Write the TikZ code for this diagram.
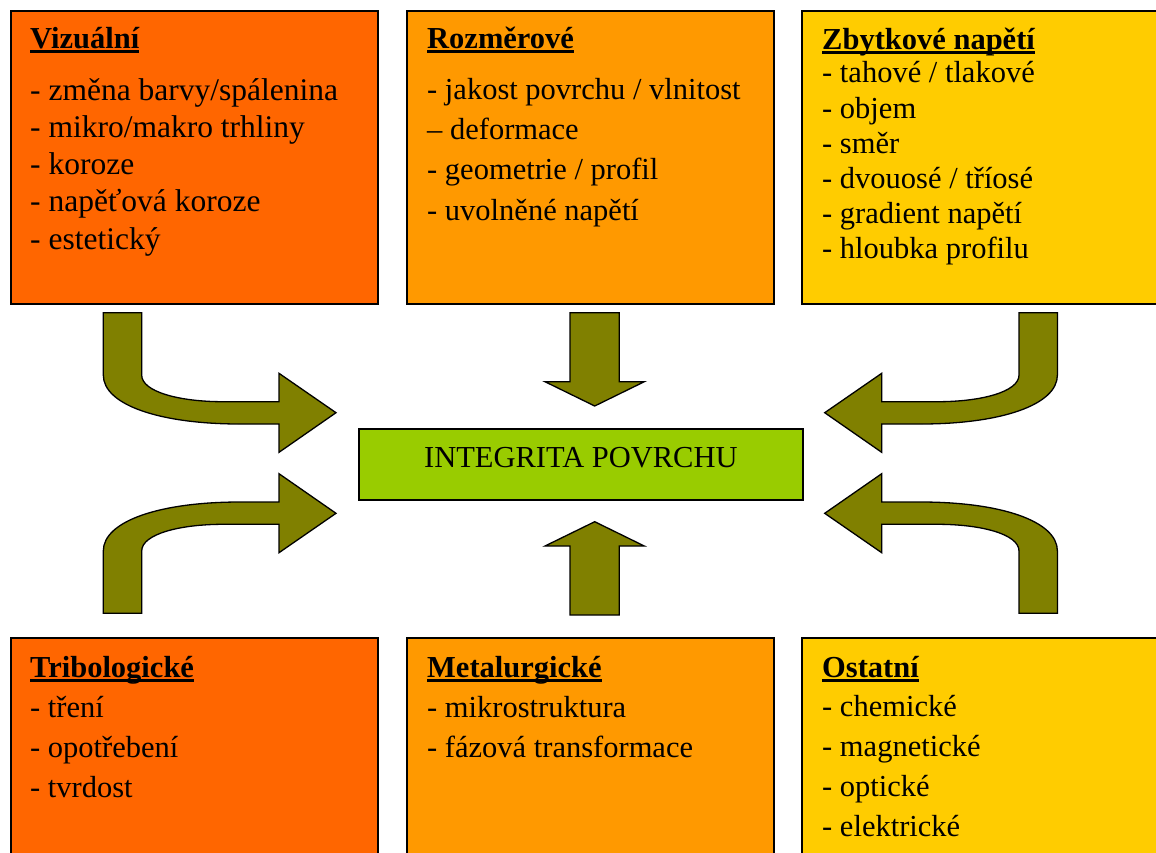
\documentclass[tikz,border=0pt]{standalone}
\usepackage{fontspec}
\setmainfont{Liberation Serif}
\definecolor{oranA}{HTML}{FF6600}
\definecolor{oranB}{HTML}{FF9900}
\definecolor{oranC}{HTML}{FFCC00}
\definecolor{greenC}{HTML}{99CC00}
\definecolor{oliveA}{HTML}{808000}
\begin{document}
\begin{tikzpicture}[x=1pt,y=-1pt,
  box/.style={draw=black, line width=1.8pt, inner sep=0pt, anchor=north west},
  txt/.style={anchor=base west, inner sep=0pt, font=\fontsize{30.5}{36}\selectfont},
  txtb/.style={anchor=base west, inner sep=0pt, font=\fontsize{31.5}{37}\selectfont},
  hd/.style={anchor=base west, inner sep=0pt, font=\fontsize{30.5}{36}\selectfont\bfseries},
  uline/.style={line width=3pt},
  blockarrow/.style={fill=oliveA, draw=black, line width=1.3pt, line join=miter}]
\useasboundingbox (0,0) rectangle (1156,852);
\clip (0,0) rectangle (1156,852);

% boxes
\node[box, fill=oranA, minimum width=367pt, minimum height=293pt] (bviz) at (10,10) {};
\node[box, fill=oranB, minimum width=367pt, minimum height=293pt] (broz) at (406,10) {};
\node[box, fill=oranC, minimum width=370pt, minimum height=293pt] (bzby) at (801,10) {};
\node[box, fill=oranA, minimum width=367pt, minimum height=240pt] (btri) at (10,637) {};
\node[box, fill=oranB, minimum width=367pt, minimum height=240pt] (bmet) at (406,637) {};
\node[box, fill=oranC, minimum width=370pt, minimum height=240pt] (bost) at (801,637) {};

% centre
\node[box, fill=greenC, minimum width=444pt, text height=39pt, text depth=32pt,
      font=\fontsize{30.5}{36}\selectfont] (cen) at (358,428) {INTEGRITA POVRCHU};

% Vizualni
\node[hd] (vh) at (30,48.5) {Vizuální};
\draw[uline] ([yshift=-3pt]vh.base west) -- ([yshift=-3pt]vh.base east);
\node[txtb] (v1) at (30,100) {- změna barvy/spálenina};
\node[txtb] (v2) at (30,137) {- mikro/makro trhliny};
\node[txtb] (v3) at (30,174) {- koroze};
\node[txtb] (v4) at (30,211) {- napěťová koroze};
\node[txtb] (v5) at (30,249) {- estetický};

% Rozmerove
\node[hd] (rh) at (427,48.5) {Rozměrové};
\draw[uline] ([yshift=-3pt]rh.base west) -- ([yshift=-3pt]rh.base east);
\node[txt] (r1) at (427,99) {- jakost povrchu / vlnitost};
\node[txt] (r2) at (427,139) {– deformace};
\node[txt] (r3) at (427,179) {- geometrie / profil};
\node[txt] (r4) at (427,220) {- uvolněné napětí};

% Zbytkove napeti
\node[hd] (zh) at (822,49) {Zbytkové napětí};
\draw[uline] ([yshift=-3pt]zh.base west) -- ([yshift=-3pt]zh.base east);
\node[txt] (z1) at (822,82) {- tahové / tlakové};
\node[txt] (z2) at (822,118) {- objem};
\node[txt] (z3) at (822,153) {- směr};
\node[txt] (z4) at (822,188.5) {- dvouosé / tříosé};
\node[txt] (z5) at (822,223) {- gradient napětí};
\node[txt] (z6) at (822,258) {- hloubka profilu};

% Tribologicke
\node[hd] (th) at (30,677) {Tribologické};
\draw[uline] ([yshift=-3pt]th.base west) -- ([yshift=-3pt]th.base east);
\node[txt] (t1) at (30,717) {- tření};
\node[txt] (t2) at (30,757) {- opotřebení};
\node[txt] (t3) at (30,797) {- tvrdost};

% Metalurgicke
\node[hd] (mh) at (427,677) {Metalurgické};
\draw[uline] ([yshift=-3pt]mh.base west) -- ([yshift=-3pt]mh.base east);
\node[txt] (m1) at (427,717) {- mikrostruktura};
\node[txt] (m2) at (427,757) {- fázová transformace};

% Ostatni
\node[hd] (oh) at (822,677) {Ostatní};
\draw[uline] ([yshift=-3pt]oh.base west) -- ([yshift=-3pt]oh.base east);
\node[txt] (o1) at (822,716) {- chemické};
\node[txt] (o2) at (822,756) {- magnetické};
\node[txt] (o3) at (822,796) {- optické};
\node[txt] (o4) at (822,836) {- elektrické};

% block arrows
\draw[blockarrow] (103.3,312.7) -- (141.7,312.7) -- (141.7,375)
  .. controls (141.7,392) and (180,401.7) .. (223,401.7) -- (279,401.7) -- (279,373.3)
  -- (336,412.7) -- (279,452.3) -- (279,424) -- (240,424)
  .. controls (160,424) and (103.3,405) .. (103.3,375) -- cycle;
\draw[blockarrow] (103.3,613.3) -- (141.7,613.3) -- (141.7,551)
  .. controls (141.7,534) and (180,524.3) .. (223,524.3) -- (279,524.3) -- (279,552.7)
  -- (336,513.3) -- (279,473.7) -- (279,502) -- (240,502)
  .. controls (160,502) and (103.3,521) .. (103.3,551) -- cycle;
\draw[blockarrow] (1057.4,312.7) -- (1019,312.7) -- (1019,375)
  .. controls (1019,392) and (980.7,401.7) .. (937.7,401.7) -- (881.7,401.7) -- (881.7,373.3)
  -- (824.7,412.7) -- (881.7,452.3) -- (881.7,424) -- (920.7,424)
  .. controls (1000.7,424) and (1057.4,405) .. (1057.4,375) -- cycle;
\draw[blockarrow] (1057.4,613.3) -- (1019,613.3) -- (1019,551)
  .. controls (1019,534) and (980.7,524.3) .. (937.7,524.3) -- (881.7,524.3) -- (881.7,552.7)
  -- (824.7,513.3) -- (881.7,473.7) -- (881.7,502) -- (920.7,502)
  .. controls (1000.7,502) and (1057.4,521) .. (1057.4,551) -- cycle;
\draw[blockarrow] (570,312.7) -- (619.3,312.7) -- (619.3,381.7) -- (644.3,381.7)
  -- (594.7,406) -- (545,381.7) -- (570,381.7) -- cycle;
\draw[blockarrow] (570,615) -- (619.3,615) -- (619.3,546) -- (644.3,546)
  -- (594.7,521.7) -- (545,546) -- (570,546) -- cycle;
\end{tikzpicture}
\end{document}
